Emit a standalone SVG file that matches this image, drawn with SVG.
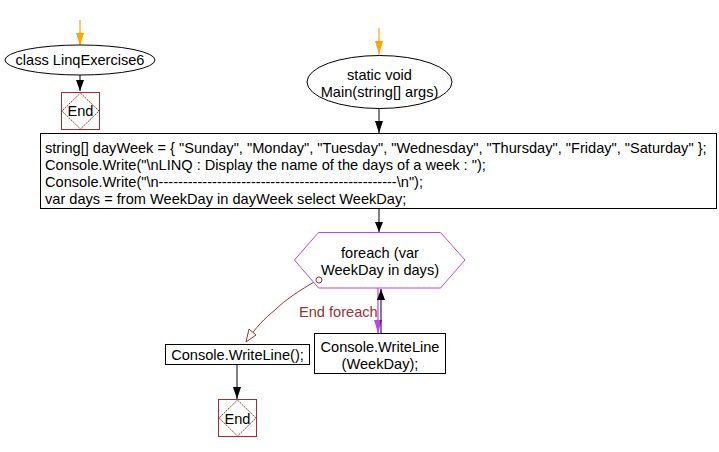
<svg xmlns="http://www.w3.org/2000/svg" width="719" height="452" viewBox="0 0 719 452">
<style>
text{font-family:"Liberation Sans",Arial,sans-serif;font-size:14.6px;fill:#000}
.c{text-anchor:middle}
.n{fill:#fff;stroke:#000;stroke-width:1}
.end{fill:#fff;stroke:#993333;stroke-width:1}
.dia{fill:none;stroke:#993333;stroke-width:1;stroke-dasharray:2 1}
.ln{stroke:#000;stroke-width:1;fill:none}
</style>
<g id="connectors">
<line x1="80" y1="20" x2="80" y2="45" stroke="#ffa500" stroke-width="1.2"/>
<path d="M76,33 L84,33 L80,45 Z" fill="#ffa500"/>
<line x1="80" y1="75" x2="80" y2="91" class="ln"/>
<path d="M76,80 L84,80 L80,91 Z" fill="#000"/>
<line x1="379" y1="28" x2="379" y2="55" stroke="#ffa500" stroke-width="1.2"/>
<path d="M375,41 L383,41 L379,54 Z" fill="#ffa500"/>
<line x1="379" y1="108" x2="379" y2="133" class="ln"/>
<path d="M375,121 L383,121 L379,133 Z" fill="#000"/>
<line x1="379" y1="209" x2="379" y2="232" class="ln"/>
<path d="M375,222 L383,222 L379,232 Z" fill="#000"/>
<line x1="378" y1="288" x2="378" y2="333" stroke="#bb44ee" stroke-width="1.2"/>
<path d="M374,320 L382,320 L378,333 Z" fill="#bb44ee"/>
<line x1="381" y1="333" x2="381" y2="289" class="ln"/>
<path d="M377,300 L385,300 L381,289 Z" fill="#000"/>
<path d="M316,281 C300,290 285,300 275,310 C265,318 255,328 247,341" fill="none" stroke="#993333" stroke-width="1"/>
<path d="M246,342 L249,329 L256,335 Z" fill="#fff" stroke="#993333"/>
<text x="299" y="317" style="fill:#993333">End foreach</text>
<line x1="237" y1="364" x2="237" y2="399" class="ln"/>
<path d="M233,387 L241,387 L237,399 Z" fill="#000"/>
</g>
<g id="class-node">
<ellipse cx="80" cy="60" rx="75" ry="15" class="n"/>
<text x="80" y="65" class="c">class LinqExercise6</text>
</g>
<g id="end1">
<rect x="61.5" y="92.5" width="38" height="37" class="end"/>
<path d="M80.5,93 L99,111 L80.5,129 L62,111 Z" class="dia"/>
<text x="80.5" y="116" class="c">End</text>
</g>
<g id="main-node">
<ellipse cx="379.5" cy="82" rx="72.5" ry="26.5" class="n"/>
<text x="379.5" y="80" class="c">static void</text>
<text x="379.5" y="97" class="c">Main(string[] args)</text>
</g>
<g id="block">
<rect x="40.5" y="133.5" width="676" height="75" class="n"/>
<text x="45" y="153">string[] dayWeek = { "Sunday", "Monday", "Tuesday", "Wednesday", "Thursday", "Friday", "Saturday" };</text>
<text x="45" y="170">Console.Write("\nLINQ : Display the name of the days of a week : ");</text>
<text x="45" y="187">Console.Write("\n-------------------------------------------------\n");</text>
<text x="45" y="204">var days = from WeekDay in dayWeek select WeekDay;</text>
</g>
<g id="foreach">
<path d="M294.5,260 L318.5,232.5 L440.5,232.5 L465,260 L440.5,288 L318.5,288 Z" fill="#fff" stroke="#bb44ee" stroke-width="1"/>
<text x="380" y="258" class="c">foreach (var</text>
<text x="380" y="275" class="c">WeekDay in days)</text>
<circle cx="319" cy="280" r="3" fill="#fff" stroke="#993333"/>
</g>
<g id="writeline-weekday">
<rect x="314.5" y="333.5" width="131" height="40" class="n"/>
<text x="380" y="352" class="c">Console.WriteLine</text>
<text x="380" y="369" class="c">(WeekDay);</text>
</g>
<g id="writeline">
<rect x="165.5" y="344.5" width="144" height="20" class="n"/>
<text x="237.5" y="360" class="c">Console.WriteLine();</text>
</g>
<g id="end2">
<rect x="218.5" y="399.5" width="38" height="37" class="end"/>
<path d="M237.5,400 L256,418 L237.5,436 L219,418 Z" class="dia"/>
<text x="237.5" y="424" class="c">End</text>
</g>
</svg>
